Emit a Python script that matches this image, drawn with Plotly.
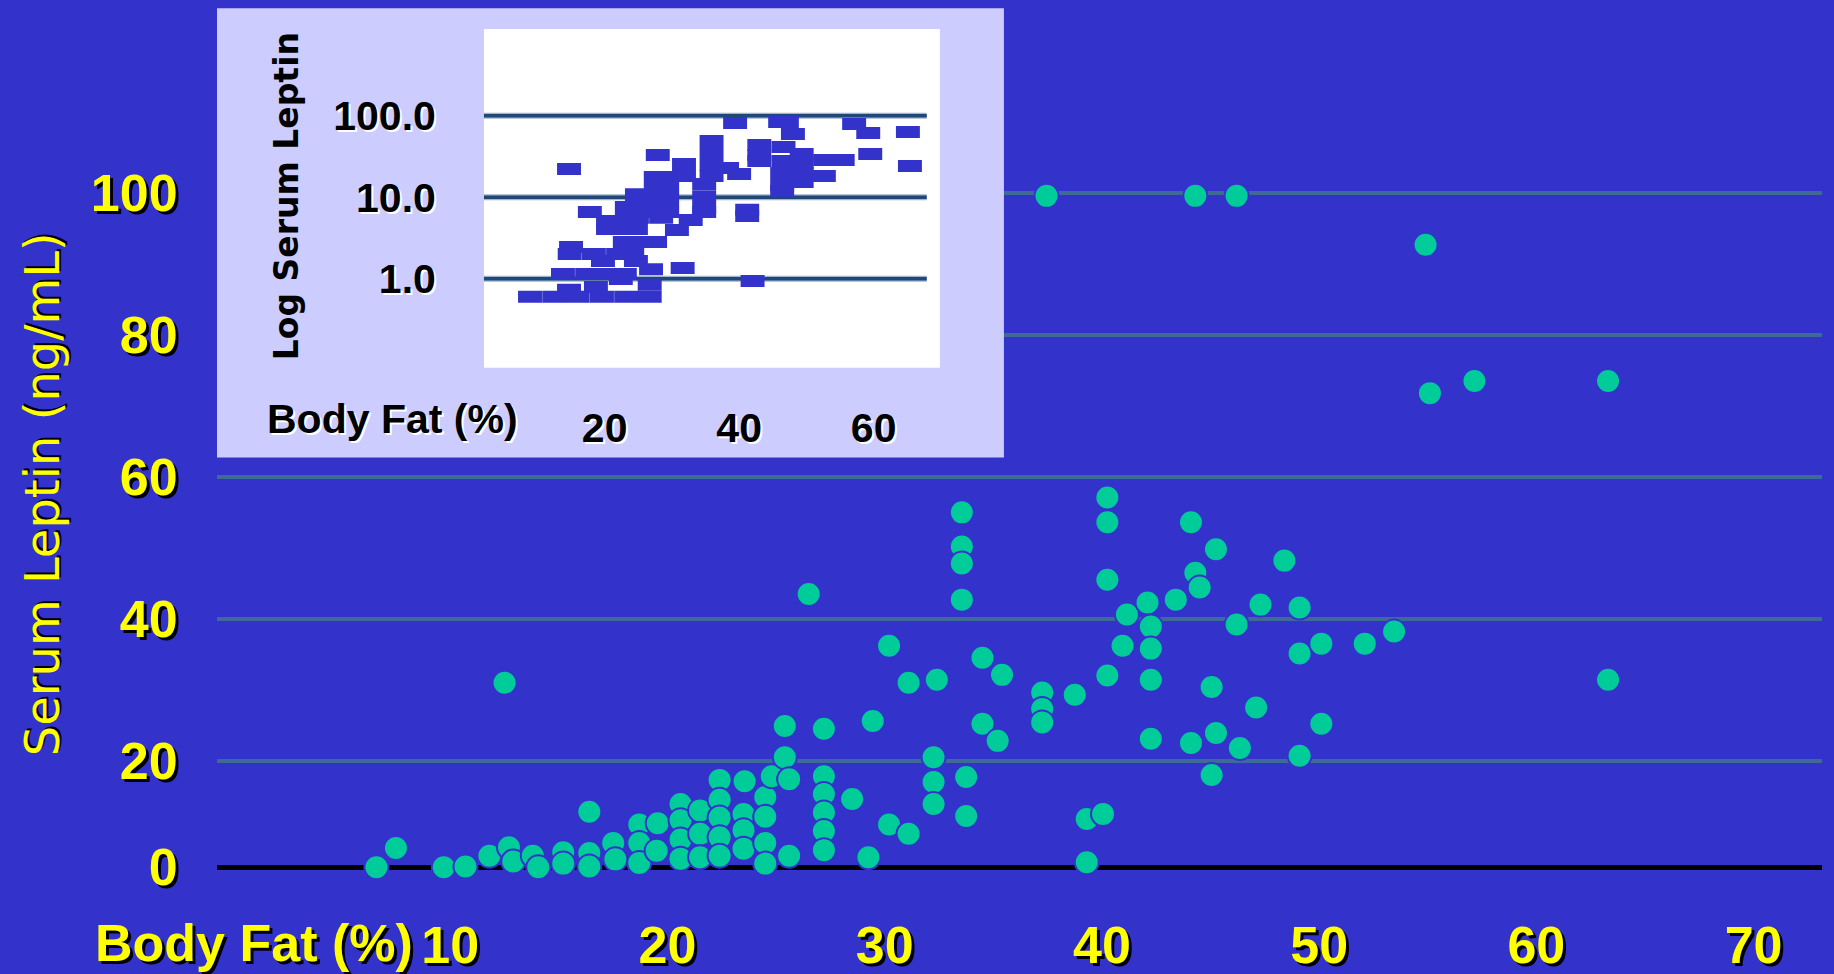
import plotly.graph_objects as go

# ---- data: main scatter (body fat % vs serum leptin) ----
body_fat = [6.6, 7.5, 9.7, 10.7, 11.8, 12.5, 12.7, 12.9, 13.8, 14.05,
            15.2, 15.2, 16.4, 16.4, 16.4, 17.5, 17.6, 18.7, 18.7, 18.7,
            19.55, 19.5, 20.6, 20.6, 20.6, 20.6, 21.5, 21.5, 21.5, 22.4,
            22.4, 22.4, 22.4, 22.4, 23.55, 23.5, 23.5, 23.5, 24.5, 24.5,
            24.5, 24.5, 24.8, 25.4, 25.4, 25.6, 25.6, 26.5, 27.2, 27.2,
            27.2, 27.2, 27.2, 27.2, 28.5, 29.25, 29.45, 30.2, 30.2, 31.1,
            31.1, 32.4, 32.25, 32.25, 32.25, 33.55, 33.55, 33.55, 33.55, 33.75,
            33.75, 34.5, 34.5, 35.4, 35.2, 37.25, 37.25, 37.25, 37.45, 38.75,
            39.3, 39.3, 40.05, 40.25, 40.25, 40.25, 40.25, 40.95, 41.15, 42.1,
            42.25, 42.25, 42.25, 42.25, 43.4, 44.1, 44.1, 44.3, 44.3, 44.5,
            45.05, 45.05, 45.25, 45.25, 46.2, 46.2, 46.35, 47.1, 47.3, 48.4,
            49.1, 49.1, 49.1, 50.1, 50.1, 52.1, 53.45, 54.9, 55.1, 57.15,
            63.3, 63.3]
leptin = [0.0, 2.7, 0.0, 0.1, 1.6, 26.0, 2.8, 0.8, 1.6, 0.0,
          2.1, 0.5, 7.8, 2.0, 0.1, 3.4, 1.1, 6.0, 3.4, 0.6,
          6.2, 2.3, 8.9, 6.6, 3.9, 1.2, 8.0, 4.7, 1.4, 12.3,
          9.5, 7.0, 4.2, 1.6, 12.1, 7.5, 5.2, 2.6, 9.9, 7.1,
          3.4, 0.5, 12.8, 19.9, 15.5, 12.4, 1.6, 38.5, 19.5, 12.8,
          10.3, 7.7, 5.1, 2.4, 9.6, 1.4, 20.6, 31.2, 6.0, 26.0,
          4.7, 26.4, 15.5, 12.0, 8.9, 50.0, 45.2, 42.8, 37.7, 12.7,
          7.2, 29.5, 20.2, 27.1, 17.8, 24.6, 22.3, 20.4, 94.6, 24.3,
          6.8, 0.7, 7.5, 52.1, 48.6, 40.5, 27.0, 31.2, 35.6, 37.3,
          33.9, 30.8, 26.4, 18.1, 37.7, 48.6, 17.5, 41.5, 94.6, 39.4,
          25.4, 13.0, 44.8, 18.9, 94.6, 34.2, 16.8, 22.5, 37.0, 43.2,
          36.6, 30.1, 15.7, 31.5, 20.2, 31.5, 33.2, 87.7, 66.8, 68.5,
          68.5, 26.4]

# ---- data: inset (log scale) ----
inset_fat = [39.4, 46.1, 47.1, 48.0, 57.1, 59.2, 65.1, 59.5, 65.4, 27.9,
             14.7, 35.9, 35.9, 35.9, 35.9, 38.2, 40.0, 34.8, 34.8, 34.8,
             34.8, 32.8, 30.75, 31.8, 31.8, 27.6, 29.3, 27.6, 29.3, 27.6,
             29.3, 29.3, 27.6, 28.4, 24.8, 24.8, 24.8, 23.3, 23.3, 23.3,
             20.5, 20.5, 24.65, 17.8, 23.0, 25.25, 27.5, 15.0, 14.8, 18.4,
             22.0, 24.1, 19.75, 24.65, 26.9, 31.6, 13.8, 17.4, 20.9, 23.0,
             22.4, 42.0, 14.7, 18.7, 26.7, 8.9, 12.5, 16.0, 19.6, 23.2,
             26.7, 43.0, 43.0, 43.0, 46.6, 46.6, 49.3, 49.3, 46.4, 46.4,
             46.4, 49.3, 49.3, 52.8, 55.4, 52.6, 41.2, 41.2]
inset_leptin = [81.3, 83.7, 83.7, 59.6, 79.1, 61.3, 63.1, 33.9, 24.2, 33.0,
                22.2, 49.0, 34.9, 24.8, 18.2, 22.8, 19.3, 14.5, 10.3, 7.4,
                6.6, 5.25, 3.96, 25.6, 18.2, 17.7, 17.7, 12.6, 12.6, 9.0,
                9.2, 6.6, 6.6, 5.6, 10.9, 7.8, 5.6, 7.6, 5.4, 4.07,
                5.1, 4.07, 4.07, 6.6, 2.82, 2.82, 2.82, 2.45, 2.01, 2.01,
                2.01, 2.01, 1.65, 1.65, 1.31, 1.35, 1.14, 1.14, 1.14, 1.14,
                0.99, 0.94, 0.73, 0.79, 0.84, 0.60, 0.60, 0.60, 0.60, 0.60,
                0.60, 43.7, 33.0, 27.8, 41.3, 27.8, 33.9, 26.1, 19.8, 14.1,
                12.0, 19.8, 15.4, 28.6, 28.6, 18.2, 7.0, 5.9]

# ---- tick labels ----
y_tick_vals = [0, 15, 35, 55, 75, 95]
y_tick_text = ["0", "20", "40", "60", "80", "100"]
x_tick_vals = [10, 20, 30, 40, 50, 60, 70]
inset_y_vals = [1, 10, 100]
inset_y_text = ["1.0", "10.0", "100.0"]
inset_x_vals = [20, 40, 60]

# ---- styling ----
BG = "#3333CC"
DOT = "#00CC99"
GRID = "#3E6B96"
LAVENDER = "#CCCCFF"
YELLOW = "#FFFF00"
CLEAR = "rgba(0,0,0,0)"

yellow_font = dict(family="Liberation Sans, Arial, sans-serif", size=52,
                   color=YELLOW, weight="bold", shadow="3px 3px 0px #000000")
inset_font = dict(family="Liberation Sans, Arial, sans-serif", size=41,
                  color="#000000", weight="bold", shadow="2px 2px 0px #FFFFFF")

fig = go.Figure()

fig.add_trace(go.Scatter(
    x=body_fat, y=leptin, mode="markers", xaxis="x", yaxis="y",
    marker=dict(size=24, color=DOT, line=dict(width=2, color=BG)),
    cliponaxis=False, hoverinfo="skip"))

# line-ew symbols drawn with a thick stroke give 24x12 px blocks
fig.add_trace(go.Scatter(
    x=inset_fat, y=inset_leptin, mode="markers", xaxis="x2", yaxis="y2",
    marker=dict(symbol="line-ew", size=17.1, color=BG,
                line=dict(width=12, color=BG)),
    hoverinfo="skip"))

# inset panel: lavender card, white plotting area, horizontal grid
inset_shapes = [
    dict(type="rect", xref="x2", yref="y2", x0=-200, x1=300, y0=1e-5, y1=1e6,
         fillcolor=LAVENDER, line_width=0, layer="below"),
    dict(type="rect", xref="x2", yref="y2", x0=2.05, x1=69.86, y0=0.0809, y1=1159,
         fillcolor="#FFFFFF", line_width=0, layer="below"),
]
for v in inset_y_vals:
    inset_shapes.append(dict(type="line", xref="x2", yref="y2", x0=2.05, x1=67.9,
                             y0=v, y1=v, line=dict(color="#9FB4CF", width=6),
                             layer="below"))
    inset_shapes.append(dict(type="line", xref="x2", yref="y2", x0=2.05, x1=67.9,
                             y0=v, y1=v, line=dict(color="#1F4878", width=3.5),
                             layer="below"))

fig.update_layout(
    width=1834, height=974,
    paper_bgcolor=BG, plot_bgcolor=BG,
    margin=dict(l=217, r=12, t=0, b=104, pad=0, autoexpand=False),
    showlegend=False,
    xaxis=dict(domain=[0, 1], range=[-0.74, 73.15], tickvals=x_tick_vals,
               showgrid=False, zeroline=False, showline=False, automargin=False,
               ticks="outside", ticklen=30, tickcolor=CLEAR,
               tickfont=yellow_font, layer="below traces"),
    yaxis=dict(domain=[0, 1], range=[-0.4, 122.2], tickvals=y_tick_vals,
               ticktext=y_tick_text, showgrid=True, gridcolor=GRID, gridwidth=4,
               zeroline=True, zerolinecolor="#000000", zerolinewidth=5,
               showline=False, automargin=False, ticks="outside", ticklen=28,
               tickcolor=CLEAR, tickfont=yellow_font, layer="below traces"),
    xaxis2=dict(domain=[0, 0.4903], range=[-37.65, 79.38], anchor="free",
                position=0.5774, tickvals=inset_x_vals, showgrid=False,
                zeroline=False, showline=False, automargin=False,
                ticks="outside", ticklen=24, tickcolor=CLEAR, tickfont=inset_font),
    yaxis2=dict(domain=[0.4741, 0.9905], type="log", range=[-2.194, 3.318],
                anchor="free", position=0.1664, tickvals=inset_y_vals,
                ticktext=inset_y_text, showgrid=False, zeroline=False,
                showline=False, automargin=False, ticks="outside", ticklen=40,
                tickcolor=CLEAR, tickfont=inset_font),
    shapes=inset_shapes,
    annotations=[
        dict(text="Body Fat (%)", xref="paper", yref="paper", x=0.1234, y=-0.0836,
             xanchor="right", yanchor="middle", showarrow=False, font=yellow_font),
        dict(text="Serum Leptin (ng/mL)", xref="paper", yref="paper", x=-0.109,
             y=0.432, xanchor="center", yanchor="middle", textangle=-90,
             showarrow=False,
             font=dict(family="DejaVu Sans, Verdana, sans-serif", size=48,
                       color=YELLOW, shadow="2px 2px 0px #000000")),
        dict(text="Log Serum Leptin", xref="paper", yref="paper", x=0.0434,
             y=0.774, xanchor="center", yanchor="middle", textangle=-90,
             showarrow=False,
             font=dict(family="DejaVu Sans, Verdana, sans-serif", size=33,
                       color="#000000", weight="bold")),
        dict(text="Body Fat (%)", xref="paper", yref="paper", x=0.1888, y=0.5187,
             xanchor="right", yanchor="middle", showarrow=False, font=inset_font),
    ],
)

fig.write_html("out.html")
